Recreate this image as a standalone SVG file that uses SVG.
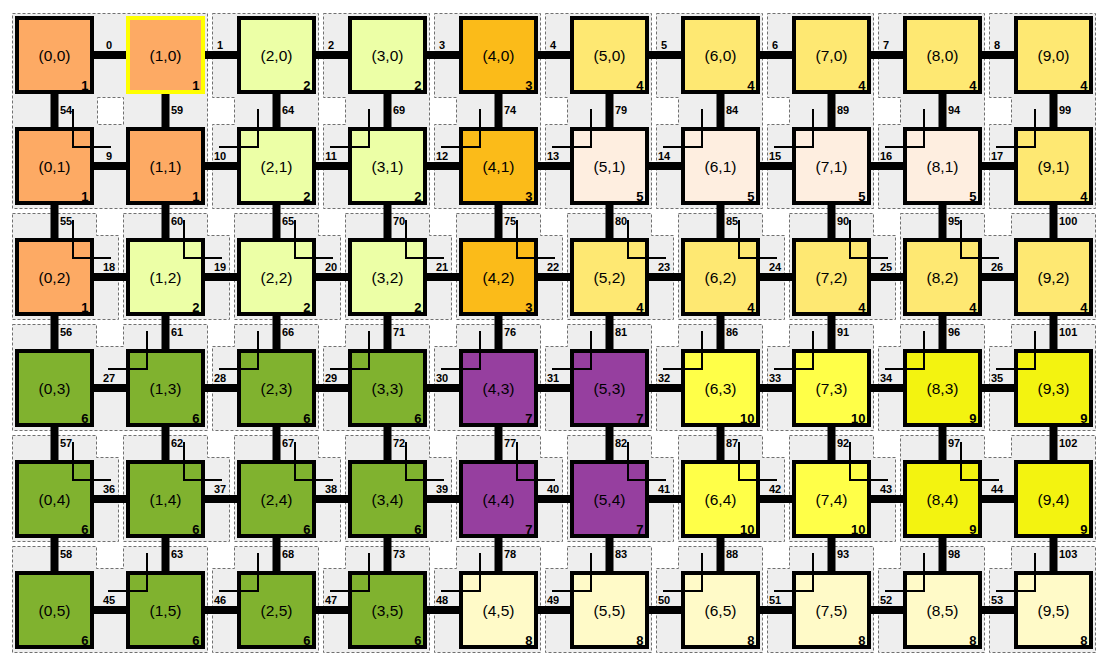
<svg xmlns="http://www.w3.org/2000/svg" width="1108" height="664" viewBox="0 0 1108 664">
<style>
.tile{fill:#eeeeee;stroke:#707070;stroke-width:1;stroke-dasharray:3,2;fill-rule:evenodd}
.node{stroke:#000;stroke-width:4}
.sel{stroke:#ffff00}
.p1{fill:#fdaa64}.p2{fill:#ecffa6}.p3{fill:#fbbb19}.p4{fill:#fee872}.p5{fill:#feeee0}
.p6{fill:#80b22f}.p7{fill:#963f9f}.p8{fill:#fffac8}.p9{fill:#f3f310}.p10{fill:#ffff48}
.nl{font-family:"Liberation Sans",Arial,sans-serif;font-size:15.5px;text-anchor:middle;fill:#000}
.pn{font-family:"Liberation Sans",Arial,sans-serif;font-size:13px;font-weight:bold;text-anchor:end;fill:#000}
.lk{stroke:#000;stroke-width:8}
.ll{font-family:"Liberation Sans",Arial,sans-serif;font-size:11px;font-weight:bold;fill:#000}
.hl{text-anchor:middle}
.path{fill:none;stroke:#000;stroke-width:2}
</style>
<defs>
<polyline id="LR" class="path" points="73,-2 73,36 111,36"/>
<polyline id="LL" class="path" points="36,-2 36,36 -3,36"/>
<polygon id="tR" class="tile" points="12.5,-9 96.5,-9 96.5,13 118.5,13 118.5,97 12.5,97"/>
<polygon id="tL" class="tile" points="12.5,-9 96.5,-9 96.5,97 -9.5,97 -9.5,13 12.5,13"/>
</defs>
<g id="tiles">
<path class="tile" d="M12.5,13.5 H207.5 V208.5 H12.5 Z M97.5,97.5 H123.5 V124.5 H97.5 Z"/>
<polygon class="tile" points="212.5,13.5 318.5,13.5 318.5,208.5 212.5,208.5 212.5,124.5 234.5,124.5 234.5,97.5 212.5,97.5"/>
<polygon class="tile" points="323.5,13.5 429.5,13.5 429.5,208.5 323.5,208.5 323.5,124.5 345.5,124.5 345.5,97.5 323.5,97.5"/>
<polygon class="tile" points="434.5,13.5 540.5,13.5 540.5,208.5 434.5,208.5 434.5,124.5 456.5,124.5 456.5,97.5 434.5,97.5"/>
<polygon class="tile" points="545.5,13.5 651.5,13.5 651.5,208.5 545.5,208.5 545.5,124.5 567.5,124.5 567.5,97.5 545.5,97.5"/>
<polygon class="tile" points="656.5,13.5 762.5,13.5 762.5,208.5 656.5,208.5 656.5,124.5 678.5,124.5 678.5,97.5 656.5,97.5"/>
<polygon class="tile" points="767.5,13.5 873.5,13.5 873.5,208.5 767.5,208.5 767.5,124.5 789.5,124.5 789.5,97.5 767.5,97.5"/>
<polygon class="tile" points="878.5,13.5 984.5,13.5 984.5,208.5 878.5,208.5 878.5,124.5 900.5,124.5 900.5,97.5 878.5,97.5"/>
<polygon class="tile" points="989.5,13.5 1095.5,13.5 1095.5,208.5 989.5,208.5 989.5,124.5 1011.5,124.5 1011.5,97.5 989.5,97.5"/>
<use href="#tR" transform="translate(0,222.5)"/><use href="#tR" transform="translate(111,222.5)"/><use href="#tR" transform="translate(222,222.5)"/><use href="#tR" transform="translate(333,222.5)"/><use href="#tR" transform="translate(444,222.5)"/><use href="#tR" transform="translate(555,222.5)"/><use href="#tR" transform="translate(666,222.5)"/><use href="#tR" transform="translate(777,222.5)"/>
<polygon class="tile" points="900.5,213.5 984.5,213.5 984.5,235.5 1011.5,235.5 1011.5,213.5 1095.5,213.5 1095.5,319.5 900.5,319.5"/>
<polygon class="tile" points="12.5,324.5 96.5,324.5 96.5,346.5 123.5,346.5 123.5,324.5 207.5,324.5 207.5,430.5 12.5,430.5"/>
<use href="#tL" transform="translate(222,333.5)"/><use href="#tL" transform="translate(333,333.5)"/><use href="#tL" transform="translate(444,333.5)"/><use href="#tL" transform="translate(555,333.5)"/><use href="#tL" transform="translate(666,333.5)"/><use href="#tL" transform="translate(777,333.5)"/><use href="#tL" transform="translate(888,333.5)"/><use href="#tL" transform="translate(999,333.5)"/>
<use href="#tR" transform="translate(0,444.5)"/><use href="#tR" transform="translate(111,444.5)"/><use href="#tR" transform="translate(222,444.5)"/><use href="#tR" transform="translate(333,444.5)"/><use href="#tR" transform="translate(444,444.5)"/><use href="#tR" transform="translate(555,444.5)"/><use href="#tR" transform="translate(666,444.5)"/><use href="#tR" transform="translate(777,444.5)"/>
<polygon class="tile" points="900.5,435.5 984.5,435.5 984.5,457.5 1011.5,457.5 1011.5,435.5 1095.5,435.5 1095.5,541.5 900.5,541.5"/>
<polygon class="tile" points="12.5,546.5 96.5,546.5 96.5,568.5 123.5,568.5 123.5,546.5 207.5,546.5 207.5,652.5 12.5,652.5"/>
<use href="#tL" transform="translate(222,555.5)"/><use href="#tL" transform="translate(333,555.5)"/><use href="#tL" transform="translate(444,555.5)"/><use href="#tL" transform="translate(555,555.5)"/><use href="#tL" transform="translate(666,555.5)"/><use href="#tL" transform="translate(777,555.5)"/><use href="#tL" transform="translate(888,555.5)"/><use href="#tL" transform="translate(999,555.5)"/>
</g>
<g id="connectors">
<g id="hlinks">
<g transform="translate(0,0)"><line class="lk" x1="92" y1="55" x2="128" y2="55"/><text class="ll hl" x="109" y="48.5">0</text></g>
<g transform="translate(111,0)"><line class="lk" x1="92" y1="55" x2="128" y2="55"/><text class="ll hl" x="109" y="48.5">1</text></g>
<g transform="translate(222,0)"><line class="lk" x1="92" y1="55" x2="128" y2="55"/><text class="ll hl" x="109" y="48.5">2</text></g>
<g transform="translate(333,0)"><line class="lk" x1="92" y1="55" x2="128" y2="55"/><text class="ll hl" x="109" y="48.5">3</text></g>
<g transform="translate(444,0)"><line class="lk" x1="92" y1="55" x2="128" y2="55"/><text class="ll hl" x="109" y="48.5">4</text></g>
<g transform="translate(555,0)"><line class="lk" x1="92" y1="55" x2="128" y2="55"/><text class="ll hl" x="109" y="48.5">5</text></g>
<g transform="translate(666,0)"><line class="lk" x1="92" y1="55" x2="128" y2="55"/><text class="ll hl" x="109" y="48.5">6</text></g>
<g transform="translate(777,0)"><line class="lk" x1="92" y1="55" x2="128" y2="55"/><text class="ll hl" x="109" y="48.5">7</text></g>
<g transform="translate(888,0)"><line class="lk" x1="92" y1="55" x2="128" y2="55"/><text class="ll hl" x="109" y="48.5">8</text></g>
<g transform="translate(0,111)"><line class="lk" x1="92" y1="55" x2="128" y2="55"/><text class="ll hl" x="109" y="48.5">9</text></g>
<g transform="translate(111,111)"><line class="lk" x1="92" y1="55" x2="128" y2="55"/><text class="ll hl" x="109" y="48.5">10</text></g>
<g transform="translate(222,111)"><line class="lk" x1="92" y1="55" x2="128" y2="55"/><text class="ll hl" x="109" y="48.5">11</text></g>
<g transform="translate(333,111)"><line class="lk" x1="92" y1="55" x2="128" y2="55"/><text class="ll hl" x="109" y="48.5">12</text></g>
<g transform="translate(444,111)"><line class="lk" x1="92" y1="55" x2="128" y2="55"/><text class="ll hl" x="109" y="48.5">13</text></g>
<g transform="translate(555,111)"><line class="lk" x1="92" y1="55" x2="128" y2="55"/><text class="ll hl" x="109" y="48.5">14</text></g>
<g transform="translate(666,111)"><line class="lk" x1="92" y1="55" x2="128" y2="55"/><text class="ll hl" x="109" y="48.5">15</text></g>
<g transform="translate(777,111)"><line class="lk" x1="92" y1="55" x2="128" y2="55"/><text class="ll hl" x="109" y="48.5">16</text></g>
<g transform="translate(888,111)"><line class="lk" x1="92" y1="55" x2="128" y2="55"/><text class="ll hl" x="109" y="48.5">17</text></g>
<g transform="translate(0,222)"><line class="lk" x1="92" y1="55" x2="128" y2="55"/><text class="ll hl" x="109" y="48.5">18</text></g>
<g transform="translate(111,222)"><line class="lk" x1="92" y1="55" x2="128" y2="55"/><text class="ll hl" x="109" y="48.5">19</text></g>
<g transform="translate(222,222)"><line class="lk" x1="92" y1="55" x2="128" y2="55"/><text class="ll hl" x="109" y="48.5">20</text></g>
<g transform="translate(333,222)"><line class="lk" x1="92" y1="55" x2="128" y2="55"/><text class="ll hl" x="109" y="48.5">21</text></g>
<g transform="translate(444,222)"><line class="lk" x1="92" y1="55" x2="128" y2="55"/><text class="ll hl" x="109" y="48.5">22</text></g>
<g transform="translate(555,222)"><line class="lk" x1="92" y1="55" x2="128" y2="55"/><text class="ll hl" x="109" y="48.5">23</text></g>
<g transform="translate(666,222)"><line class="lk" x1="92" y1="55" x2="128" y2="55"/><text class="ll hl" x="109" y="48.5">24</text></g>
<g transform="translate(777,222)"><line class="lk" x1="92" y1="55" x2="128" y2="55"/><text class="ll hl" x="109" y="48.5">25</text></g>
<g transform="translate(888,222)"><line class="lk" x1="92" y1="55" x2="128" y2="55"/><text class="ll hl" x="109" y="48.5">26</text></g>
<g transform="translate(0,333)"><line class="lk" x1="92" y1="55" x2="128" y2="55"/><text class="ll hl" x="109" y="48.5">27</text></g>
<g transform="translate(111,333)"><line class="lk" x1="92" y1="55" x2="128" y2="55"/><text class="ll hl" x="109" y="48.5">28</text></g>
<g transform="translate(222,333)"><line class="lk" x1="92" y1="55" x2="128" y2="55"/><text class="ll hl" x="109" y="48.5">29</text></g>
<g transform="translate(333,333)"><line class="lk" x1="92" y1="55" x2="128" y2="55"/><text class="ll hl" x="109" y="48.5">30</text></g>
<g transform="translate(444,333)"><line class="lk" x1="92" y1="55" x2="128" y2="55"/><text class="ll hl" x="109" y="48.5">31</text></g>
<g transform="translate(555,333)"><line class="lk" x1="92" y1="55" x2="128" y2="55"/><text class="ll hl" x="109" y="48.5">32</text></g>
<g transform="translate(666,333)"><line class="lk" x1="92" y1="55" x2="128" y2="55"/><text class="ll hl" x="109" y="48.5">33</text></g>
<g transform="translate(777,333)"><line class="lk" x1="92" y1="55" x2="128" y2="55"/><text class="ll hl" x="109" y="48.5">34</text></g>
<g transform="translate(888,333)"><line class="lk" x1="92" y1="55" x2="128" y2="55"/><text class="ll hl" x="109" y="48.5">35</text></g>
<g transform="translate(0,444)"><line class="lk" x1="92" y1="55" x2="128" y2="55"/><text class="ll hl" x="109" y="48.5">36</text></g>
<g transform="translate(111,444)"><line class="lk" x1="92" y1="55" x2="128" y2="55"/><text class="ll hl" x="109" y="48.5">37</text></g>
<g transform="translate(222,444)"><line class="lk" x1="92" y1="55" x2="128" y2="55"/><text class="ll hl" x="109" y="48.5">38</text></g>
<g transform="translate(333,444)"><line class="lk" x1="92" y1="55" x2="128" y2="55"/><text class="ll hl" x="109" y="48.5">39</text></g>
<g transform="translate(444,444)"><line class="lk" x1="92" y1="55" x2="128" y2="55"/><text class="ll hl" x="109" y="48.5">40</text></g>
<g transform="translate(555,444)"><line class="lk" x1="92" y1="55" x2="128" y2="55"/><text class="ll hl" x="109" y="48.5">41</text></g>
<g transform="translate(666,444)"><line class="lk" x1="92" y1="55" x2="128" y2="55"/><text class="ll hl" x="109" y="48.5">42</text></g>
<g transform="translate(777,444)"><line class="lk" x1="92" y1="55" x2="128" y2="55"/><text class="ll hl" x="109" y="48.5">43</text></g>
<g transform="translate(888,444)"><line class="lk" x1="92" y1="55" x2="128" y2="55"/><text class="ll hl" x="109" y="48.5">44</text></g>
<g transform="translate(0,555)"><line class="lk" x1="92" y1="55" x2="128" y2="55"/><text class="ll hl" x="109" y="48.5">45</text></g>
<g transform="translate(111,555)"><line class="lk" x1="92" y1="55" x2="128" y2="55"/><text class="ll hl" x="109" y="48.5">46</text></g>
<g transform="translate(222,555)"><line class="lk" x1="92" y1="55" x2="128" y2="55"/><text class="ll hl" x="109" y="48.5">47</text></g>
<g transform="translate(333,555)"><line class="lk" x1="92" y1="55" x2="128" y2="55"/><text class="ll hl" x="109" y="48.5">48</text></g>
<g transform="translate(444,555)"><line class="lk" x1="92" y1="55" x2="128" y2="55"/><text class="ll hl" x="109" y="48.5">49</text></g>
<g transform="translate(555,555)"><line class="lk" x1="92" y1="55" x2="128" y2="55"/><text class="ll hl" x="109" y="48.5">50</text></g>
<g transform="translate(666,555)"><line class="lk" x1="92" y1="55" x2="128" y2="55"/><text class="ll hl" x="109" y="48.5">51</text></g>
<g transform="translate(777,555)"><line class="lk" x1="92" y1="55" x2="128" y2="55"/><text class="ll hl" x="109" y="48.5">52</text></g>
<g transform="translate(888,555)"><line class="lk" x1="92" y1="55" x2="128" y2="55"/><text class="ll hl" x="109" y="48.5">53</text></g>
</g>
<g id="vlinks">
<g transform="translate(0,0)"><line class="lk" x1="54.5" y1="92" x2="54.5" y2="128"/><text class="ll" x="60" y="114">54</text></g>
<g transform="translate(0,111)"><line class="lk" x1="54.5" y1="92" x2="54.5" y2="128"/><text class="ll" x="60" y="114">55</text></g>
<g transform="translate(0,222)"><line class="lk" x1="54.5" y1="92" x2="54.5" y2="128"/><text class="ll" x="60" y="114">56</text></g>
<g transform="translate(0,333)"><line class="lk" x1="54.5" y1="92" x2="54.5" y2="128"/><text class="ll" x="60" y="114">57</text></g>
<g transform="translate(0,444)"><line class="lk" x1="54.5" y1="92" x2="54.5" y2="128"/><text class="ll" x="60" y="114">58</text></g>
<g transform="translate(111,0)"><line class="lk" x1="54.5" y1="92" x2="54.5" y2="128"/><text class="ll" x="60" y="114">59</text></g>
<g transform="translate(111,111)"><line class="lk" x1="54.5" y1="92" x2="54.5" y2="128"/><text class="ll" x="60" y="114">60</text></g>
<g transform="translate(111,222)"><line class="lk" x1="54.5" y1="92" x2="54.5" y2="128"/><text class="ll" x="60" y="114">61</text></g>
<g transform="translate(111,333)"><line class="lk" x1="54.5" y1="92" x2="54.5" y2="128"/><text class="ll" x="60" y="114">62</text></g>
<g transform="translate(111,444)"><line class="lk" x1="54.5" y1="92" x2="54.5" y2="128"/><text class="ll" x="60" y="114">63</text></g>
<g transform="translate(222,0)"><line class="lk" x1="54.5" y1="92" x2="54.5" y2="128"/><text class="ll" x="60" y="114">64</text></g>
<g transform="translate(222,111)"><line class="lk" x1="54.5" y1="92" x2="54.5" y2="128"/><text class="ll" x="60" y="114">65</text></g>
<g transform="translate(222,222)"><line class="lk" x1="54.5" y1="92" x2="54.5" y2="128"/><text class="ll" x="60" y="114">66</text></g>
<g transform="translate(222,333)"><line class="lk" x1="54.5" y1="92" x2="54.5" y2="128"/><text class="ll" x="60" y="114">67</text></g>
<g transform="translate(222,444)"><line class="lk" x1="54.5" y1="92" x2="54.5" y2="128"/><text class="ll" x="60" y="114">68</text></g>
<g transform="translate(333,0)"><line class="lk" x1="54.5" y1="92" x2="54.5" y2="128"/><text class="ll" x="60" y="114">69</text></g>
<g transform="translate(333,111)"><line class="lk" x1="54.5" y1="92" x2="54.5" y2="128"/><text class="ll" x="60" y="114">70</text></g>
<g transform="translate(333,222)"><line class="lk" x1="54.5" y1="92" x2="54.5" y2="128"/><text class="ll" x="60" y="114">71</text></g>
<g transform="translate(333,333)"><line class="lk" x1="54.5" y1="92" x2="54.5" y2="128"/><text class="ll" x="60" y="114">72</text></g>
<g transform="translate(333,444)"><line class="lk" x1="54.5" y1="92" x2="54.5" y2="128"/><text class="ll" x="60" y="114">73</text></g>
<g transform="translate(444,0)"><line class="lk" x1="54.5" y1="92" x2="54.5" y2="128"/><text class="ll" x="60" y="114">74</text></g>
<g transform="translate(444,111)"><line class="lk" x1="54.5" y1="92" x2="54.5" y2="128"/><text class="ll" x="60" y="114">75</text></g>
<g transform="translate(444,222)"><line class="lk" x1="54.5" y1="92" x2="54.5" y2="128"/><text class="ll" x="60" y="114">76</text></g>
<g transform="translate(444,333)"><line class="lk" x1="54.5" y1="92" x2="54.5" y2="128"/><text class="ll" x="60" y="114">77</text></g>
<g transform="translate(444,444)"><line class="lk" x1="54.5" y1="92" x2="54.5" y2="128"/><text class="ll" x="60" y="114">78</text></g>
<g transform="translate(555,0)"><line class="lk" x1="54.5" y1="92" x2="54.5" y2="128"/><text class="ll" x="60" y="114">79</text></g>
<g transform="translate(555,111)"><line class="lk" x1="54.5" y1="92" x2="54.5" y2="128"/><text class="ll" x="60" y="114">80</text></g>
<g transform="translate(555,222)"><line class="lk" x1="54.5" y1="92" x2="54.5" y2="128"/><text class="ll" x="60" y="114">81</text></g>
<g transform="translate(555,333)"><line class="lk" x1="54.5" y1="92" x2="54.5" y2="128"/><text class="ll" x="60" y="114">82</text></g>
<g transform="translate(555,444)"><line class="lk" x1="54.5" y1="92" x2="54.5" y2="128"/><text class="ll" x="60" y="114">83</text></g>
<g transform="translate(666,0)"><line class="lk" x1="54.5" y1="92" x2="54.5" y2="128"/><text class="ll" x="60" y="114">84</text></g>
<g transform="translate(666,111)"><line class="lk" x1="54.5" y1="92" x2="54.5" y2="128"/><text class="ll" x="60" y="114">85</text></g>
<g transform="translate(666,222)"><line class="lk" x1="54.5" y1="92" x2="54.5" y2="128"/><text class="ll" x="60" y="114">86</text></g>
<g transform="translate(666,333)"><line class="lk" x1="54.5" y1="92" x2="54.5" y2="128"/><text class="ll" x="60" y="114">87</text></g>
<g transform="translate(666,444)"><line class="lk" x1="54.5" y1="92" x2="54.5" y2="128"/><text class="ll" x="60" y="114">88</text></g>
<g transform="translate(777,0)"><line class="lk" x1="54.5" y1="92" x2="54.5" y2="128"/><text class="ll" x="60" y="114">89</text></g>
<g transform="translate(777,111)"><line class="lk" x1="54.5" y1="92" x2="54.5" y2="128"/><text class="ll" x="60" y="114">90</text></g>
<g transform="translate(777,222)"><line class="lk" x1="54.5" y1="92" x2="54.5" y2="128"/><text class="ll" x="60" y="114">91</text></g>
<g transform="translate(777,333)"><line class="lk" x1="54.5" y1="92" x2="54.5" y2="128"/><text class="ll" x="60" y="114">92</text></g>
<g transform="translate(777,444)"><line class="lk" x1="54.5" y1="92" x2="54.5" y2="128"/><text class="ll" x="60" y="114">93</text></g>
<g transform="translate(888,0)"><line class="lk" x1="54.5" y1="92" x2="54.5" y2="128"/><text class="ll" x="60" y="114">94</text></g>
<g transform="translate(888,111)"><line class="lk" x1="54.5" y1="92" x2="54.5" y2="128"/><text class="ll" x="60" y="114">95</text></g>
<g transform="translate(888,222)"><line class="lk" x1="54.5" y1="92" x2="54.5" y2="128"/><text class="ll" x="60" y="114">96</text></g>
<g transform="translate(888,333)"><line class="lk" x1="54.5" y1="92" x2="54.5" y2="128"/><text class="ll" x="60" y="114">97</text></g>
<g transform="translate(888,444)"><line class="lk" x1="54.5" y1="92" x2="54.5" y2="128"/><text class="ll" x="60" y="114">98</text></g>
<g transform="translate(999,0)"><line class="lk" x1="54.5" y1="92" x2="54.5" y2="128"/><text class="ll" x="60" y="114">99</text></g>
<g transform="translate(999,111)"><line class="lk" x1="54.5" y1="92" x2="54.5" y2="128"/><text class="ll" x="60" y="114">100</text></g>
<g transform="translate(999,222)"><line class="lk" x1="54.5" y1="92" x2="54.5" y2="128"/><text class="ll" x="60" y="114">101</text></g>
<g transform="translate(999,333)"><line class="lk" x1="54.5" y1="92" x2="54.5" y2="128"/><text class="ll" x="60" y="114">102</text></g>
<g transform="translate(999,444)"><line class="lk" x1="54.5" y1="92" x2="54.5" y2="128"/><text class="ll" x="60" y="114">103</text></g>
</g>
</g>
<g id="nodes">
<g id="n0_0" transform="translate(0,0)"><rect class="node p1" x="17" y="18" width="75" height="74"/><text class="nl" x="54.5" y="61">(0,0)</text><text class="pn" x="88.5" y="90">1</text></g>
<g id="n1_0" transform="translate(111,0)"><rect class="node sel p1" x="17" y="18" width="75" height="74"/><text class="nl" x="54.5" y="61">(1,0)</text><text class="pn" x="88.5" y="90">1</text></g>
<g id="n2_0" transform="translate(222,0)"><rect class="node p2" x="17" y="18" width="75" height="74"/><text class="nl" x="54.5" y="61">(2,0)</text><text class="pn" x="88.5" y="90">2</text></g>
<g id="n3_0" transform="translate(333,0)"><rect class="node p2" x="17" y="18" width="75" height="74"/><text class="nl" x="54.5" y="61">(3,0)</text><text class="pn" x="88.5" y="90">2</text></g>
<g id="n4_0" transform="translate(444,0)"><rect class="node p3" x="17" y="18" width="75" height="74"/><text class="nl" x="54.5" y="61">(4,0)</text><text class="pn" x="88.5" y="90">3</text></g>
<g id="n5_0" transform="translate(555,0)"><rect class="node p4" x="17" y="18" width="75" height="74"/><text class="nl" x="54.5" y="61">(5,0)</text><text class="pn" x="88.5" y="90">4</text></g>
<g id="n6_0" transform="translate(666,0)"><rect class="node p4" x="17" y="18" width="75" height="74"/><text class="nl" x="54.5" y="61">(6,0)</text><text class="pn" x="88.5" y="90">4</text></g>
<g id="n7_0" transform="translate(777,0)"><rect class="node p4" x="17" y="18" width="75" height="74"/><text class="nl" x="54.5" y="61">(7,0)</text><text class="pn" x="88.5" y="90">4</text></g>
<g id="n8_0" transform="translate(888,0)"><rect class="node p4" x="17" y="18" width="75" height="74"/><text class="nl" x="54.5" y="61">(8,0)</text><text class="pn" x="88.5" y="90">4</text></g>
<g id="n9_0" transform="translate(999,0)"><rect class="node p4" x="17" y="18" width="75" height="74"/><text class="nl" x="54.5" y="61">(9,0)</text><text class="pn" x="88.5" y="90">4</text></g>
<g id="n0_1" transform="translate(0,111)"><rect class="node p1" x="17" y="18" width="75" height="74"/><text class="nl" x="54.5" y="61">(0,1)</text><text class="pn" x="88.5" y="90">1</text></g>
<g id="n1_1" transform="translate(111,111)"><rect class="node p1" x="17" y="18" width="75" height="74"/><text class="nl" x="54.5" y="61">(1,1)</text><text class="pn" x="88.5" y="90">1</text></g>
<g id="n2_1" transform="translate(222,111)"><rect class="node p2" x="17" y="18" width="75" height="74"/><text class="nl" x="54.5" y="61">(2,1)</text><text class="pn" x="88.5" y="90">2</text></g>
<g id="n3_1" transform="translate(333,111)"><rect class="node p2" x="17" y="18" width="75" height="74"/><text class="nl" x="54.5" y="61">(3,1)</text><text class="pn" x="88.5" y="90">2</text></g>
<g id="n4_1" transform="translate(444,111)"><rect class="node p3" x="17" y="18" width="75" height="74"/><text class="nl" x="54.5" y="61">(4,1)</text><text class="pn" x="88.5" y="90">3</text></g>
<g id="n5_1" transform="translate(555,111)"><rect class="node p5" x="17" y="18" width="75" height="74"/><text class="nl" x="54.5" y="61">(5,1)</text><text class="pn" x="88.5" y="90">5</text></g>
<g id="n6_1" transform="translate(666,111)"><rect class="node p5" x="17" y="18" width="75" height="74"/><text class="nl" x="54.5" y="61">(6,1)</text><text class="pn" x="88.5" y="90">5</text></g>
<g id="n7_1" transform="translate(777,111)"><rect class="node p5" x="17" y="18" width="75" height="74"/><text class="nl" x="54.5" y="61">(7,1)</text><text class="pn" x="88.5" y="90">5</text></g>
<g id="n8_1" transform="translate(888,111)"><rect class="node p5" x="17" y="18" width="75" height="74"/><text class="nl" x="54.5" y="61">(8,1)</text><text class="pn" x="88.5" y="90">5</text></g>
<g id="n9_1" transform="translate(999,111)"><rect class="node p4" x="17" y="18" width="75" height="74"/><text class="nl" x="54.5" y="61">(9,1)</text><text class="pn" x="88.5" y="90">4</text></g>
<g id="n0_2" transform="translate(0,222)"><rect class="node p1" x="17" y="18" width="75" height="74"/><text class="nl" x="54.5" y="61">(0,2)</text><text class="pn" x="88.5" y="90">1</text></g>
<g id="n1_2" transform="translate(111,222)"><rect class="node p2" x="17" y="18" width="75" height="74"/><text class="nl" x="54.5" y="61">(1,2)</text><text class="pn" x="88.5" y="90">2</text></g>
<g id="n2_2" transform="translate(222,222)"><rect class="node p2" x="17" y="18" width="75" height="74"/><text class="nl" x="54.5" y="61">(2,2)</text><text class="pn" x="88.5" y="90">2</text></g>
<g id="n3_2" transform="translate(333,222)"><rect class="node p2" x="17" y="18" width="75" height="74"/><text class="nl" x="54.5" y="61">(3,2)</text><text class="pn" x="88.5" y="90">2</text></g>
<g id="n4_2" transform="translate(444,222)"><rect class="node p3" x="17" y="18" width="75" height="74"/><text class="nl" x="54.5" y="61">(4,2)</text><text class="pn" x="88.5" y="90">3</text></g>
<g id="n5_2" transform="translate(555,222)"><rect class="node p4" x="17" y="18" width="75" height="74"/><text class="nl" x="54.5" y="61">(5,2)</text><text class="pn" x="88.5" y="90">4</text></g>
<g id="n6_2" transform="translate(666,222)"><rect class="node p4" x="17" y="18" width="75" height="74"/><text class="nl" x="54.5" y="61">(6,2)</text><text class="pn" x="88.5" y="90">4</text></g>
<g id="n7_2" transform="translate(777,222)"><rect class="node p4" x="17" y="18" width="75" height="74"/><text class="nl" x="54.5" y="61">(7,2)</text><text class="pn" x="88.5" y="90">4</text></g>
<g id="n8_2" transform="translate(888,222)"><rect class="node p4" x="17" y="18" width="75" height="74"/><text class="nl" x="54.5" y="61">(8,2)</text><text class="pn" x="88.5" y="90">4</text></g>
<g id="n9_2" transform="translate(999,222)"><rect class="node p4" x="17" y="18" width="75" height="74"/><text class="nl" x="54.5" y="61">(9,2)</text><text class="pn" x="88.5" y="90">4</text></g>
<g id="n0_3" transform="translate(0,333)"><rect class="node p6" x="17" y="18" width="75" height="74"/><text class="nl" x="54.5" y="61">(0,3)</text><text class="pn" x="88.5" y="90">6</text></g>
<g id="n1_3" transform="translate(111,333)"><rect class="node p6" x="17" y="18" width="75" height="74"/><text class="nl" x="54.5" y="61">(1,3)</text><text class="pn" x="88.5" y="90">6</text></g>
<g id="n2_3" transform="translate(222,333)"><rect class="node p6" x="17" y="18" width="75" height="74"/><text class="nl" x="54.5" y="61">(2,3)</text><text class="pn" x="88.5" y="90">6</text></g>
<g id="n3_3" transform="translate(333,333)"><rect class="node p6" x="17" y="18" width="75" height="74"/><text class="nl" x="54.5" y="61">(3,3)</text><text class="pn" x="88.5" y="90">6</text></g>
<g id="n4_3" transform="translate(444,333)"><rect class="node p7" x="17" y="18" width="75" height="74"/><text class="nl" x="54.5" y="61">(4,3)</text><text class="pn" x="88.5" y="90">7</text></g>
<g id="n5_3" transform="translate(555,333)"><rect class="node p7" x="17" y="18" width="75" height="74"/><text class="nl" x="54.5" y="61">(5,3)</text><text class="pn" x="88.5" y="90">7</text></g>
<g id="n6_3" transform="translate(666,333)"><rect class="node p10" x="17" y="18" width="75" height="74"/><text class="nl" x="54.5" y="61">(6,3)</text><text class="pn" x="88.5" y="90">10</text></g>
<g id="n7_3" transform="translate(777,333)"><rect class="node p10" x="17" y="18" width="75" height="74"/><text class="nl" x="54.5" y="61">(7,3)</text><text class="pn" x="88.5" y="90">10</text></g>
<g id="n8_3" transform="translate(888,333)"><rect class="node p9" x="17" y="18" width="75" height="74"/><text class="nl" x="54.5" y="61">(8,3)</text><text class="pn" x="88.5" y="90">9</text></g>
<g id="n9_3" transform="translate(999,333)"><rect class="node p9" x="17" y="18" width="75" height="74"/><text class="nl" x="54.5" y="61">(9,3)</text><text class="pn" x="88.5" y="90">9</text></g>
<g id="n0_4" transform="translate(0,444)"><rect class="node p6" x="17" y="18" width="75" height="74"/><text class="nl" x="54.5" y="61">(0,4)</text><text class="pn" x="88.5" y="90">6</text></g>
<g id="n1_4" transform="translate(111,444)"><rect class="node p6" x="17" y="18" width="75" height="74"/><text class="nl" x="54.5" y="61">(1,4)</text><text class="pn" x="88.5" y="90">6</text></g>
<g id="n2_4" transform="translate(222,444)"><rect class="node p6" x="17" y="18" width="75" height="74"/><text class="nl" x="54.5" y="61">(2,4)</text><text class="pn" x="88.5" y="90">6</text></g>
<g id="n3_4" transform="translate(333,444)"><rect class="node p6" x="17" y="18" width="75" height="74"/><text class="nl" x="54.5" y="61">(3,4)</text><text class="pn" x="88.5" y="90">6</text></g>
<g id="n4_4" transform="translate(444,444)"><rect class="node p7" x="17" y="18" width="75" height="74"/><text class="nl" x="54.5" y="61">(4,4)</text><text class="pn" x="88.5" y="90">7</text></g>
<g id="n5_4" transform="translate(555,444)"><rect class="node p7" x="17" y="18" width="75" height="74"/><text class="nl" x="54.5" y="61">(5,4)</text><text class="pn" x="88.5" y="90">7</text></g>
<g id="n6_4" transform="translate(666,444)"><rect class="node p10" x="17" y="18" width="75" height="74"/><text class="nl" x="54.5" y="61">(6,4)</text><text class="pn" x="88.5" y="90">10</text></g>
<g id="n7_4" transform="translate(777,444)"><rect class="node p10" x="17" y="18" width="75" height="74"/><text class="nl" x="54.5" y="61">(7,4)</text><text class="pn" x="88.5" y="90">10</text></g>
<g id="n8_4" transform="translate(888,444)"><rect class="node p9" x="17" y="18" width="75" height="74"/><text class="nl" x="54.5" y="61">(8,4)</text><text class="pn" x="88.5" y="90">9</text></g>
<g id="n9_4" transform="translate(999,444)"><rect class="node p9" x="17" y="18" width="75" height="74"/><text class="nl" x="54.5" y="61">(9,4)</text><text class="pn" x="88.5" y="90">9</text></g>
<g id="n0_5" transform="translate(0,555)"><rect class="node p6" x="17" y="18" width="75" height="74"/><text class="nl" x="54.5" y="61">(0,5)</text><text class="pn" x="88.5" y="90">6</text></g>
<g id="n1_5" transform="translate(111,555)"><rect class="node p6" x="17" y="18" width="75" height="74"/><text class="nl" x="54.5" y="61">(1,5)</text><text class="pn" x="88.5" y="90">6</text></g>
<g id="n2_5" transform="translate(222,555)"><rect class="node p6" x="17" y="18" width="75" height="74"/><text class="nl" x="54.5" y="61">(2,5)</text><text class="pn" x="88.5" y="90">6</text></g>
<g id="n3_5" transform="translate(333,555)"><rect class="node p6" x="17" y="18" width="75" height="74"/><text class="nl" x="54.5" y="61">(3,5)</text><text class="pn" x="88.5" y="90">6</text></g>
<g id="n4_5" transform="translate(444,555)"><rect class="node p8" x="17" y="18" width="75" height="74"/><text class="nl" x="54.5" y="61">(4,5)</text><text class="pn" x="88.5" y="90">8</text></g>
<g id="n5_5" transform="translate(555,555)"><rect class="node p8" x="17" y="18" width="75" height="74"/><text class="nl" x="54.5" y="61">(5,5)</text><text class="pn" x="88.5" y="90">8</text></g>
<g id="n6_5" transform="translate(666,555)"><rect class="node p8" x="17" y="18" width="75" height="74"/><text class="nl" x="54.5" y="61">(6,5)</text><text class="pn" x="88.5" y="90">8</text></g>
<g id="n7_5" transform="translate(777,555)"><rect class="node p8" x="17" y="18" width="75" height="74"/><text class="nl" x="54.5" y="61">(7,5)</text><text class="pn" x="88.5" y="90">8</text></g>
<g id="n8_5" transform="translate(888,555)"><rect class="node p8" x="17" y="18" width="75" height="74"/><text class="nl" x="54.5" y="61">(8,5)</text><text class="pn" x="88.5" y="90">8</text></g>
<g id="n9_5" transform="translate(999,555)"><rect class="node p8" x="17" y="18" width="75" height="74"/><text class="nl" x="54.5" y="61">(9,5)</text><text class="pn" x="88.5" y="90">8</text></g>
</g>
<g id="routes">
<use href="#LR" transform="translate(0,111)"/>
<use href="#LL" transform="translate(222,111)"/><use href="#LL" transform="translate(333,111)"/><use href="#LL" transform="translate(444,111)"/><use href="#LL" transform="translate(555,111)"/><use href="#LL" transform="translate(666,111)"/><use href="#LL" transform="translate(777,111)"/><use href="#LL" transform="translate(888,111)"/><use href="#LL" transform="translate(999,111)"/>
<use href="#LR" transform="translate(0,222)"/><use href="#LR" transform="translate(111,222)"/><use href="#LR" transform="translate(222,222)"/><use href="#LR" transform="translate(333,222)"/><use href="#LR" transform="translate(444,222)"/><use href="#LR" transform="translate(555,222)"/><use href="#LR" transform="translate(666,222)"/><use href="#LR" transform="translate(777,222)"/><use href="#LR" transform="translate(888,222)"/>
<use href="#LL" transform="translate(111,333)"/><use href="#LL" transform="translate(222,333)"/><use href="#LL" transform="translate(333,333)"/><use href="#LL" transform="translate(444,333)"/><use href="#LL" transform="translate(555,333)"/><use href="#LL" transform="translate(666,333)"/><use href="#LL" transform="translate(777,333)"/><use href="#LL" transform="translate(888,333)"/><use href="#LL" transform="translate(999,333)"/>
<use href="#LR" transform="translate(0,444)"/><use href="#LR" transform="translate(111,444)"/><use href="#LR" transform="translate(222,444)"/><use href="#LR" transform="translate(333,444)"/><use href="#LR" transform="translate(444,444)"/><use href="#LR" transform="translate(555,444)"/><use href="#LR" transform="translate(666,444)"/><use href="#LR" transform="translate(777,444)"/><use href="#LR" transform="translate(888,444)"/>
<use href="#LL" transform="translate(111,555)"/><use href="#LL" transform="translate(222,555)"/><use href="#LL" transform="translate(333,555)"/><use href="#LL" transform="translate(444,555)"/><use href="#LL" transform="translate(555,555)"/><use href="#LL" transform="translate(666,555)"/><use href="#LL" transform="translate(777,555)"/><use href="#LL" transform="translate(888,555)"/><use href="#LL" transform="translate(999,555)"/>
</g>
</svg>
